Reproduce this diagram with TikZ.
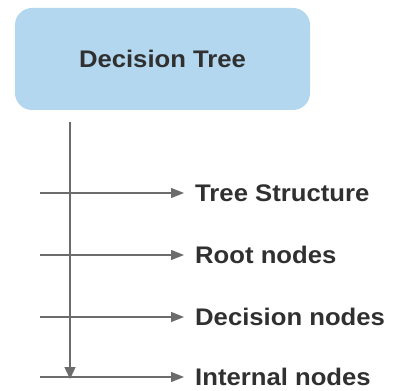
\documentclass[tikz,border=0pt]{standalone}
\usepackage{fontspec}
\newfontfamily\labfont[FakeStretch=1.07]{Liberation Sans}
\usetikzlibrary{arrows.meta}
\definecolor{boxblue}{HTML}{B2D7EF}
\definecolor{txt}{HTML}{303030}
\definecolor{ln}{HTML}{6C6C6C}
\tikzset{
  titlebox/.style={draw=none, fill=boxblue, rounded corners=17pt, minimum width=295pt, minimum height=102pt, inner sep=0pt,
    font=\labfont\bfseries\fontsize{24}{28}\selectfont, text=txt},
  labeltext/.style={anchor=west, inner sep=0pt, text height=17pt, text depth=0pt,
    font=\labfont\bfseries\fontsize{24}{28}\selectfont, text=txt},
  conn/.style={draw=ln, line width=1.4pt, -{Triangle[length=13pt,width=10pt]}},
}
\begin{document}
\begin{tikzpicture}[x=1pt,y=-1pt]
\useasboundingbox (0,0) rectangle (395,390);
\node[titlebox] (dt) at (162.5,59) {Decision Tree};
\coordinate (vtop) at (70,122);
\coordinate (vbot) at (70,379);
\node[labeltext] (t1) at (195,193) {Tree Structure};
\node[labeltext] (t2) at (195,255) {Root nodes};
\node[labeltext] (t3) at (195,317) {Decision nodes};
\node[labeltext] (t4) at (195,377) {Internal nodes};
\coordinate (s1) at (40,193);
\coordinate (s2) at (40,255);
\coordinate (s3) at (40,317);
\coordinate (s4) at (40,377);
\draw[conn, shorten >=11pt] (s1) -- (t1.west);
\draw[conn, shorten >=11pt] (s2) -- (t2.west);
\draw[conn, shorten >=11pt] (s3) -- (t3.west);
\draw[conn, shorten >=11pt] (s4) -- (t4.west);
\draw[conn, -{Triangle[length=12pt,width=11pt]}] (vtop) -- (vbot);
\end{tikzpicture}
\end{document}
